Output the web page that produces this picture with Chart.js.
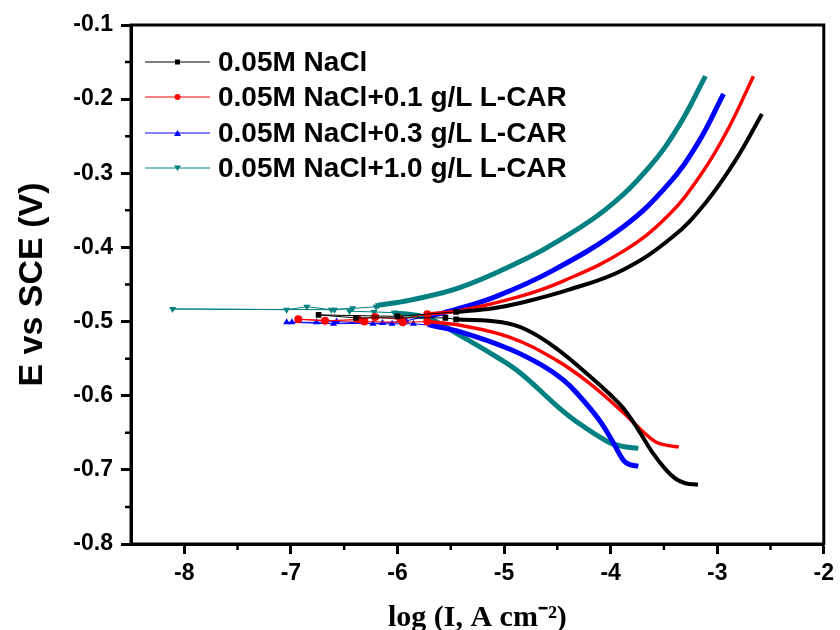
<!DOCTYPE html>
<html>
<head>
<meta charset="utf-8">
<title>Tafel plots</title>
<script src="https://cdn.jsdelivr.net/npm/chart.js@4.4.1/dist/chart.umd.min.js"></script>
<style>
  body { margin: 0; background: #fff; }
  #wrap { position: relative; width: 840px; height: 630px; }
  #legend { position: absolute; left: 145px; top: 44px; font: bold 28px Arial, "Liberation Sans", sans-serif; color: #000; }
  #legend .row { display: flex; align-items: center; height: 35.5px; white-space: nowrap; }
  #legend svg { margin-right: 8px; }
</style>
</head>
<body>
<div id="wrap">
  <canvas id="chart" width="840" height="630"></canvas>
  <div id="legend"></div>
</div>
<script>
// log(I) and E, per solution.
// cathodic branch: from E_corr down to the end; noise: scattered points near E_corr; anodic: from E_corr up.
const labels = ["0.05M NaCl", "0.05M NaCl+0.1 g/L L-CAR", "0.05M NaCl+0.3 g/L L-CAR", "0.05M NaCl+1.0 g/L L-CAR"];

const blackCathX = [-5.45, -5.02, -4.79, -4.51, -4.20, -4.00, -3.88, -3.74, -3.61, -3.48, -3.39, -3.30, -3.18];
const blackCathY = [-0.497, -0.501, -0.511, -0.536, -0.573, -0.599, -0.617, -0.646, -0.676, -0.700, -0.712, -0.718, -0.720];
const blackNoiseX = [-5.55, -6.39, -6.74, -6.00];
const blackNoiseY = [-0.495, -0.495, -0.491, -0.493];
const blackAnodX = [-5.45, -5.10, -4.85, -4.39, -3.88, -3.42, -3.11, -2.83, -2.58];
const blackAnodY = [-0.487, -0.482, -0.475, -0.457, -0.430, -0.386, -0.340, -0.283, -0.220];

const redCathX = [-5.72, -5.41, -4.95, -4.51, -4.20, -3.88, -3.70, -3.58, -3.47, -3.36];
const redCathY = [-0.500, -0.505, -0.521, -0.552, -0.583, -0.623, -0.648, -0.662, -0.667, -0.669];
const redNoiseX = [-5.95, -6.31, -6.93, -6.68, -6.37, -6.21, -5.97];
const redNoiseY = [-0.501, -0.500, -0.497, -0.499, -0.497, -0.494, -0.497];
const redAnodX = [-5.72, -5.41, -4.85, -4.44, -3.88, -3.46, -3.14, -2.90, -2.66];
const redAnodY = [-0.490, -0.485, -0.466, -0.445, -0.405, -0.357, -0.299, -0.241, -0.169];

const blueCathX = [-5.69, -5.41, -4.95, -4.63, -4.45, -4.32, -4.11, -3.98, -3.88, -3.82, -3.74];
const blueCathY = [-0.505, -0.514, -0.537, -0.560, -0.578, -0.596, -0.632, -0.662, -0.687, -0.693, -0.695];
const blueNoiseX = [-5.85, -6.05, -6.23, -6.57, -6.76, -7.04, -6.99, -6.60, -6.14, -5.92];
const blueNoiseY = [-0.503, -0.503, -0.503, -0.500, -0.501, -0.501, -0.501, -0.503, -0.502, -0.499];
const blueAnodX = [-5.69, -5.56, -5.09, -4.54, -3.88, -3.46, -3.18, -2.94];
const blueAnodY = [-0.492, -0.488, -0.467, -0.431, -0.372, -0.315, -0.259, -0.193];

const tealCathX = [-6.03, -5.72, -5.41, -5.09, -4.85, -4.51, -4.32, -4.04, -3.90, -3.74];
const tealCathY = [-0.488, -0.495, -0.519, -0.546, -0.569, -0.613, -0.635, -0.661, -0.668, -0.671];
const tealNoiseX = [-6.22, -6.45, -6.42, -6.62, -6.85, -7.04, -8.11, -6.59, -6.20];
const tealNoiseY = [-0.487, -0.486, -0.482, -0.484, -0.480, -0.484, -0.483, -0.484, -0.480];
const tealAnodX = [-6.18, -5.88, -5.41, -4.79, -4.51, -4.04, -3.64, -3.36, -3.11];
const tealAnodY = [-0.478, -0.471, -0.454, -0.415, -0.393, -0.348, -0.292, -0.236, -0.169];

const xTicks = [-8, -7, -6, -5, -4, -3, -2];
const yTicks = [-0.8, -0.7, -0.6, -0.5, -0.4, -0.3, -0.2, -0.1];

const zip = (xs, ys) => xs.map((x, i) => ({ x, y: ys[i] }));

const series = [
  { color: "#000000", width: 4, point: "rect", rot: 0, cath: zip(blackCathX, blackCathY), noise: zip(blackNoiseX, blackNoiseY), anod: zip(blackAnodX, blackAnodY) },
  { color: "#ff0000", width: 3.5, point: "circle", rot: 0, cath: zip(redCathX, redCathY), noise: zip(redNoiseX, redNoiseY), anod: zip(redAnodX, redAnodY) },
  { color: "#0000ff", width: 5, point: "triangle", rot: 0, cath: zip(blueCathX, blueCathY), noise: zip(blueNoiseX, blueNoiseY), anod: zip(blueAnodX, blueAnodY) },
  { color: "#008080", width: 5, point: "triangle", rot: 180, cath: zip(tealCathX, tealCathY), noise: zip(tealNoiseX, tealNoiseY), anod: zip(tealAnodX, tealAnodY) },
];

const datasets = [];
series.forEach((s, i) => {
  const branch = { label: labels[i], showLine: true, tension: 0.4,
    borderColor: s.color, backgroundColor: s.color, borderWidth: s.width, pointRadius: 0 };
  datasets.push({ ...branch, data: s.cath });
  datasets.push({ ...branch, data: s.anod });
  datasets.push({
    label: labels[i], showLine: true, data: [s.cath[0], ...s.noise, s.anod[0]],
    borderColor: s.color, backgroundColor: s.color, borderWidth: 1,
    pointStyle: s.point, pointRotation: s.rot, pointRadius: 4, pointBorderWidth: 0, tension: 0,
  });
});

// minor ticks halfway between majors, plus the closed frame
const frame = {
  id: "frame",
  afterDraw(chart) {
    const { ctx, chartArea: a, scales: { x, y } } = chart;
    ctx.save();
    ctx.strokeStyle = "#000";
    ctx.lineWidth = 2.5;
    ctx.beginPath();
    const xv = x.ticks.map((t) => t.value);
    for (let i = 0; i < xv.length - 1; i++) {
      const px = x.getPixelForValue((xv[i] + xv[i + 1]) / 2);
      ctx.moveTo(px, a.bottom); ctx.lineTo(px, a.bottom + 6);
    }
    const yv = y.ticks.map((t) => t.value);
    for (let i = 0; i < yv.length - 1; i++) {
      const py = y.getPixelForValue((yv[i] + yv[i + 1]) / 2);
      ctx.moveTo(a.left, py); ctx.lineTo(a.left - 6, py);
    }
    ctx.stroke();
    ctx.lineWidth = 3;
    ctx.strokeRect(a.left, a.top, a.right - a.left, a.bottom - a.top);
    ctx.restore();
  },
};

const tickFont = { family: "Arial, 'Liberation Sans', sans-serif", size: 23, weight: "bold" };
const gridOpts = { drawOnChartArea: false, drawTicks: true, tickLength: 10, tickWidth: 3, tickColor: "#000", color: "#000" };

new Chart(document.getElementById("chart"), {
  type: "scatter",
  data: { datasets },
  plugins: [frame],
  options: {
    responsive: false,
    animation: false,
    layout: { padding: { left: 16, top: 25, right: 11, bottom: 0 } },
    plugins: { legend: { display: false }, tooltip: { enabled: false } },
    scales: {
      x: {
        type: "linear", min: -8.5, max: -2,
        afterFit: (s) => { s.height = 86; },
        afterBuildTicks: (s) => { s.ticks = xTicks.map((v) => ({ value: v })); },
        ticks: { font: tickFont, color: "#000", padding: 6, maxRotation: 0, callback: (v) => v.toFixed(0) },
        grid: gridOpts,
        border: { display: true, color: "#000", width: 3 },
        title: { display: true, text: "log (I, A cm\u207B\u00B2)", color: "#000", padding: { top: 0, bottom: -3 },
          font: { family: "'Times New Roman', 'Liberation Serif', serif", size: 30, weight: "bold", lineHeight: 1 } },
      },
      y: {
        type: "linear", min: -0.8, max: -0.1,
        afterFit: (s) => { s.width = 115; },
        afterBuildTicks: (s) => { s.ticks = yTicks.map((v) => ({ value: v })); },
        ticks: { font: tickFont, color: "#000", padding: 8, callback: (v) => v.toFixed(1) },
        grid: gridOpts,
        border: { display: true, color: "#000", width: 3 },
        title: { display: true, text: "E vs SCE (V)", color: "#000", padding: 0,
          font: { family: "Arial, 'Liberation Sans', sans-serif", size: 34, weight: "bold", lineHeight: 1 } },
      },
    },
  },
});

// legend: short line with the series marker in the middle
const markerSvg = (s) => {
  const c = s.color;
  if (s.point === "rect") return `<rect x="30" y="3.5" width="5" height="5" fill="${c}"/>`;
  if (s.point === "circle") return `<circle cx="32.5" cy="6" r="3" fill="${c}"/>`;
  if (s.rot === 180) return `<polygon points="29,3.5 36,3.5 32.5,9" fill="${c}"/>`;
  return `<polygon points="29,9 36,9 32.5,3" fill="${c}"/>`;
};
document.getElementById("legend").innerHTML = series.map((s, i) => `
  <div class="row">
    <svg width="65" height="12"><line x1="0" y1="6" x2="65" y2="6" stroke="${s.color}" stroke-width="1"/>${markerSvg(s)}</svg>
    <span>${labels[i]}</span>
  </div>`).join("");
</script>
</body>
</html>
